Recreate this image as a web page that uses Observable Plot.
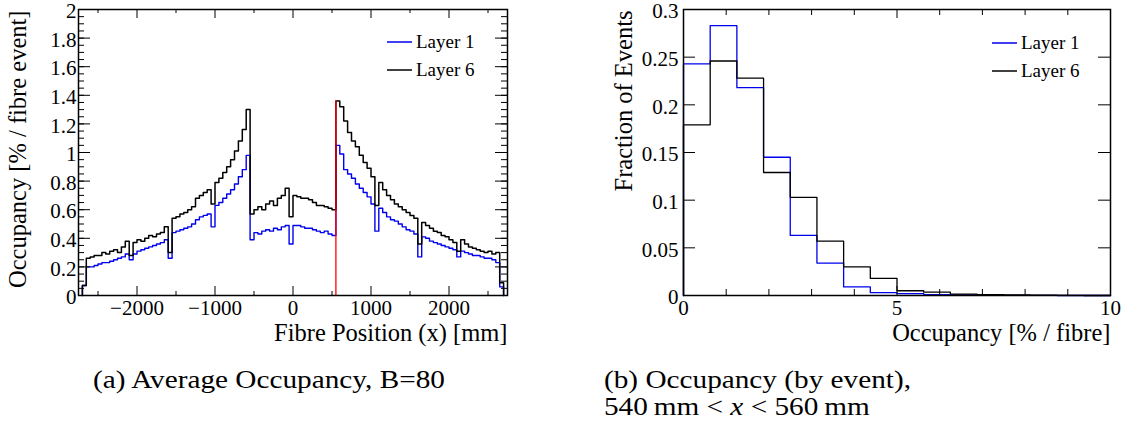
<!DOCTYPE html>
<html><head><meta charset="utf-8">
<script src="https://cdn.jsdelivr.net/npm/d3@7"></script>
<script src="https://cdn.jsdelivr.net/npm/@observablehq/plot@0.6"></script>
<style>
body{margin:0;background:#fff;width:1129px;height:427px;position:relative;overflow:hidden;font-family:"Liberation Serif","Times New Roman","DejaVu Serif",serif;color:#000;}
.panel{position:absolute;top:0;}
.legend{position:absolute;font-size:19px;display:flex;align-items:center;height:20px;line-height:20px;white-space:nowrap;}
.legend svg{display:block;margin-right:4px;}
.cap{position:absolute;font-size:25px;line-height:1;white-space:nowrap;transform:scaleX(1.17);transform-origin:0 0;}
</style></head><body>
<div id="pa" class="panel" style="left:0;width:560px"></div>
<div id="pb" class="panel" style="left:560px;width:569px"></div>
<div class="legend" style="left:387px;top:32px"><svg width="25" height="4"><line x1="0" y1="2" x2="25" y2="2" stroke="#0000ee" stroke-width="1.5"/></svg>Layer 1</div>
<div class="legend" style="left:387px;top:60px"><svg width="25" height="4"><line x1="0" y1="2" x2="25" y2="2" stroke="#000" stroke-width="1.5"/></svg>Layer 6</div>
<div class="legend" style="left:992px;top:33px"><svg width="25" height="4"><line x1="0" y1="2" x2="25" y2="2" stroke="#0000ee" stroke-width="1.5"/></svg>Layer 1</div>
<div class="legend" style="left:992px;top:61px"><svg width="25" height="4"><line x1="0" y1="2" x2="25" y2="2" stroke="#000" stroke-width="1.5"/></svg>Layer 6</div>
<div class="cap" style="left:93px;top:367px">(a) Average Occupancy, B=80</div>
<div class="cap" style="left:604px;top:367px">(b) Occupancy (by event),</div>
<div class="cap" style="left:604px;top:394px">540&#8201;mm &lt; <i>x</i> &lt; 560&#8201;mm</div>
<script>
// ---- Panel (a): average occupancy vs fibre position (50 mm bins) ----
const posBinStart = -2700;
const posBinWidth = 50;
const layer1Occ = [
 0.07, 0.20, 0.20, 0.21, 0.22, 0.23, 0.23, 0.24, 0.25, 0.26,
 0.27, 0.29, 0.25, 0.29, 0.31, 0.32, 0.33, 0.34, 0.35, 0.36,
 0.37, 0.39, 0.26, 0.44, 0.45, 0.46, 0.47, 0.48, 0.50, 0.53,
 0.55, 0.56, 0.57, 0.48, 0.63, 0.65, 0.68, 0.71, 0.74, 0.78,
 0.83, 0.88, 0.98, 0.39, 0.44, 0.43, 0.45, 0.46, 0.45, 0.47,
 0.46, 0.48, 0.49, 0.36, 0.49, 0.49, 0.48, 0.47, 0.47, 0.46,
 0.45, 0.44, 0.45, 0.43, 0.42, 1.05, 0.99, 0.88, 0.85, 0.82,
 0.78, 0.75, 0.72, 0.69, 0.64, 0.45, 0.61, 0.58, 0.55, 0.53,
 0.52, 0.50, 0.48, 0.46, 0.45, 0.43, 0.27, 0.41, 0.40, 0.38,
 0.37, 0.36, 0.35, 0.34, 0.33, 0.32, 0.27, 0.31, 0.30, 0.29,
 0.28, 0.28, 0.27, 0.26, 0.26, 0.25, 0.23, 0.06];
const layer6Occ = [
 0.07, 0.26, 0.27, 0.28, 0.28, 0.30, 0.29, 0.31, 0.32, 0.30,
 0.34, 0.38, 0.28, 0.37, 0.39, 0.38, 0.40, 0.42, 0.41, 0.43,
 0.44, 0.48, 0.30, 0.54, 0.55, 0.57, 0.58, 0.60, 0.62, 0.68,
 0.70, 0.72, 0.74, 0.64, 0.79, 0.82, 0.86, 0.90, 0.95, 1.01,
 1.08, 1.16, 1.30, 0.57, 0.60, 0.62, 0.60, 0.64, 0.66, 0.63,
 0.68, 0.70, 0.75, 0.55, 0.70, 0.69, 0.68, 0.68, 0.67, 0.65,
 0.63, 0.63, 0.62, 0.61, 0.60, 1.36, 1.32, 1.22, 1.14, 1.08,
 1.04, 0.98, 0.93, 0.89, 0.83, 0.63, 0.79, 0.74, 0.70, 0.67,
 0.64, 0.62, 0.60, 0.58, 0.56, 0.54, 0.36, 0.51, 0.49, 0.47,
 0.45, 0.44, 0.42, 0.41, 0.39, 0.37, 0.31, 0.39, 0.36, 0.34,
 0.33, 0.32, 0.31, 0.30, 0.31, 0.29, 0.30, 0.09];
const highlightEdge = 550; // 540 mm < x < 560 mm slice
const posMajorTicks = [-2000, -1000, 0, 1000, 2000];
const posMinorTicks = [-2500, -1500, -500, 500, 1500, 2500];
const occMajorTicks = [0, 0.2, 0.4, 0.6, 0.8, 1, 1.2, 1.4, 1.6, 1.8, 2];

// ---- Panel (b): occupancy distribution by event (16 bins over 0..10) ----
const fracBinStart = 0;
const fracBinWidth = 0.625;
const layer1Frac = [0.243, 0.283, 0.218, 0.145, 0.063, 0.034, 0.009, 0.003, 0.002, 0.001, 0.0005, 0.0003, 0.0002, 0.0001, 0, 0];
const layer6Frac = [0.179, 0.246, 0.228, 0.129, 0.103, 0.057, 0.030, 0.018, 0.005, 0.0035, 0.0015, 0.0008, 0.0006, 0.0004, 0.0002, 0];
const fracXMajorTicks = [0, 5, 10];
const fracXMinorTicks = [1, 2, 3, 4, 6, 7, 8, 9];
const fracYMajorTicks = [0, 0.05, 0.1, 0.15, 0.2, 0.25, 0.3];

const BLUE = "#0000ee", BLACK = "#000";
const FONT = "'Liberation Serif', 'Times New Roman', 'DejaVu Serif', serif";

function stepRows(start, width, values) {
  const rows = [{x: start, y: 0}];
  values.forEach((v, i) => rows.push({x: start + i * width, y: v}));
  rows.push({x: start + values.length * width, y: 0});
  return rows;
}
const fmtNum = d => (d < 0 ? "\u2212" : "") + String(+Math.abs(d).toFixed(2));

function frameTicks(fw, fh, t) {
  const m = [];
  const addX = (ticks, len) => {
    m.push(Plot.tickX(ticks, {x: d => d, insetTop: fh - len, stroke: BLACK, strokeWidth: 1}));
    m.push(Plot.tickX(ticks, {x: d => d, insetBottom: fh - len, stroke: BLACK, strokeWidth: 1}));
  };
  const addY = (ticks, len) => {
    m.push(Plot.tickY(ticks, {y: d => d, insetRight: fw - len, stroke: BLACK, strokeWidth: 1}));
    m.push(Plot.tickY(ticks, {y: d => d, insetLeft: fw - len, stroke: BLACK, strokeWidth: 1}));
  };
  if (t.xMajor) addX(t.xMajor, t.xMajLen);
  if (t.xMinor) addX(t.xMinor, t.xMinLen);
  if (t.yMajor) addY(t.yMajor, t.yMajLen);
  if (t.yMinor) addY(t.yMinor, t.yMinLen);
  return m;
}

const style = {fontFamily: FONT, fontSize: "21px", color: "#000", background: "transparent", overflow: "visible"};

// Panel (a)
{
  const W = 560, H = 350, mL = 78, mR = 53, mT = 9, mB = 55;
  const fw = W - mL - mR, fh = H - mT - mB;
  const hiIdx = (highlightEdge - posBinStart) / posBinWidth;
  const plot = Plot.plot({
    width: W, height: H, marginLeft: mL, marginRight: mR, marginTop: mT, marginBottom: mB,
    x: {domain: [-2750, 2750]}, y: {domain: [0, 2]},
    style,
    marks: [
      Plot.line(stepRows(posBinStart, posBinWidth, layer1Occ), {x: "x", y: "y", curve: "step-after", stroke: BLUE, strokeWidth: 1.4}),
      Plot.line(stepRows(posBinStart, posBinWidth, layer6Occ), {x: "x", y: "y", curve: "step-after", stroke: BLACK, strokeWidth: 1.5}),
      Plot.ruleX([highlightEdge], {x: d => d, y1: 0, y2: layer6Occ[hiIdx], stroke: "#ff0000", strokeWidth: 1.3}),
      ...frameTicks(fw, fh, {xMajor: posMajorTicks, xMajLen: 9, xMinor: posMinorTicks, xMinLen: 4,
        yMajor: occMajorTicks, yMajLen: 12, yMinor: d3.range(0, 2.0001, 0.05), yMinLen: 6}),
      Plot.axisX({ticks: posMajorTicks, tickSize: 0, tickPadding: 5, tickFormat: fmtNum, label: null}),
      Plot.axisY({ticks: occMajorTicks, tickSize: 0, tickPadding: 2, tickFormat: fmtNum, label: null, dy: 2}),
      Plot.text(["Fibre Position (x) [mm]"], {frameAnchor: "bottom-right", text: d => d, textAnchor: "end", lineAnchor: "middle", dy: 38, fontSize: 24.5}),
      Plot.text(["Occupancy [% / fibre event]"], {frameAnchor: "top-left", text: d => d, textAnchor: "end", lineAnchor: "middle", rotate: -90, dx: -60, dy: 1, fontSize: 24.5}),
      Plot.frame({stroke: BLACK, strokeWidth: 1.5})
    ]
  });
  document.getElementById("pa").appendChild(plot);
}

// Panel (b)
{
  const W = 569, H = 350, mL = 123, mR = 19, mT = 9, mB = 55;
  const fw = W - mL - mR, fh = H - mT - mB;
  const plot = Plot.plot({
    width: W, height: H, marginLeft: mL, marginRight: mR, marginTop: mT, marginBottom: mB,
    x: {domain: [0, 10]}, y: {domain: [0, 0.3]},
    style,
    marks: [
      Plot.line(stepRows(fracBinStart, fracBinWidth, layer1Frac), {x: "x", y: "y", curve: "step-after", stroke: BLUE, strokeWidth: 1.3}),
      Plot.line(stepRows(fracBinStart, fracBinWidth, layer6Frac), {x: "x", y: "y", curve: "step-after", stroke: BLACK, strokeWidth: 1.3}),
      ...frameTicks(fw, fh, {xMajor: fracXMajorTicks, xMajLen: 9, xMinor: fracXMinorTicks, xMinLen: 6,
        yMajor: fracYMajorTicks, yMajLen: 12}),
      Plot.axisX({ticks: fracXMajorTicks, tickSize: 0, tickPadding: 5, tickFormat: fmtNum, label: null}),
      Plot.axisY({ticks: fracYMajorTicks, tickSize: 0, tickPadding: 5, tickFormat: fmtNum, label: null, dy: 2}),
      Plot.text(["Occupancy [% / fibre]"], {frameAnchor: "bottom-right", text: d => d, textAnchor: "end", lineAnchor: "middle", dy: 38, fontSize: 24.5}),
      Plot.text(["Fraction of Events"], {frameAnchor: "top-left", text: d => d, textAnchor: "end", lineAnchor: "middle", rotate: -90, dx: -59, dy: 1, fontSize: 24.5}),
      Plot.frame({stroke: BLACK, strokeWidth: 1.5})
    ]
  });
  document.getElementById("pb").appendChild(plot);
}
</script>
</body></html>
